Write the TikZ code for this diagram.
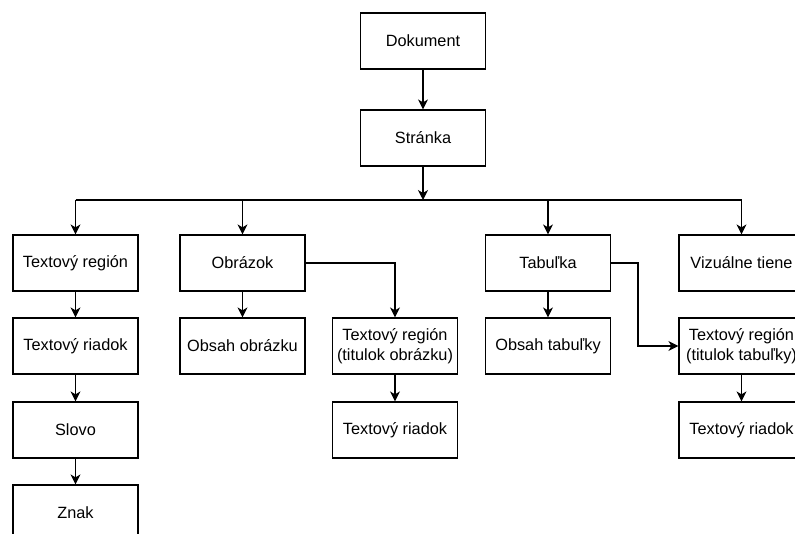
\documentclass[tikz,border=0pt]{standalone}
\usepackage{fontspec}
\setmainfont{Liberation Sans}
\usetikzlibrary{arrows.meta}
\begin{document}
\begin{tikzpicture}[x=1pt,y=-1pt,
  box/.style={draw, line width=1.2pt, minimum width=125pt, minimum height=56pt, inner sep=0pt,
    align=center, font=\fontsize{16.3}{19.5}\selectfont},
  conn/.style={line width=1.2pt, -{Stealth[length=10pt,width=10pt,inset=3pt]}},
  plain/.style={line width=1.2pt}]
\useasboundingbox (0,0) rectangle (795,534);
\clip (0,0) rectangle (795,534);
\fill[white] (0,0) rectangle (795,534);
\node[box] (dok) at (423,41) {Dokument};
\node[box] (str) at (423,138) {Stránka};
\node[box] (tr1) at (75.5,263) {Textový región};
\node[box] (obr) at (242.5,263) {Obrázok};
\node[box] (tab) at (548,263) {Tabuľka};
\node[box] (viz) at (741.5,263) {Vizuálne tiene};
\node[box] (trd1) at (75.5,346) {Textový riadok};
\node[box] (slovo) at (75.5,430) {Slovo};
\node[box] (znak) at (75.5,513) {Znak};
\node[box] (obsobr) at (242.5,346) {Obsah obrázku};
\node[box] (trt1) at (395,346) {Textový región\\(titulok obrázku)};
\node[box] (trd2) at (395,430) {Textový riadok};
\node[box] (obstab) at (548,346) {Obsah tabuľky};
\node[box] (trt2) at (741.5,346) {Textový región\\(titulok tabuľky)};
\node[box] (trd3) at (741.5,430) {Textový riadok};
\coordinate (br) at (423,200);
\draw[conn] (dok) -- (str);
\draw[conn] (str) -- (br);
\draw[plain] (tr1.north |- br) -- (viz.north |- br);
\draw[conn] (tr1.north |- br) -- (tr1);
\draw[conn] (obr.north |- br) -- (obr);
\draw[conn] (tab.north |- br) -- (tab);
\draw[conn] (viz.north |- br) -- (viz);
\draw[conn] (tr1) -- (trd1);
\draw[conn] (trd1) -- (slovo);
\draw[conn] (slovo) -- (znak);
\draw[conn] (obr) -- (obsobr);
\draw[conn] (obr.east) -| (trt1.north);
\draw[conn] (trt1) -- (trd2);
\draw[conn] (tab) -- (obstab);
\draw[conn] (tab.east) -- (638,263) |- (trt2.west);
\draw[conn] (trt2) -- (trd3);
\end{tikzpicture}
\end{document}
